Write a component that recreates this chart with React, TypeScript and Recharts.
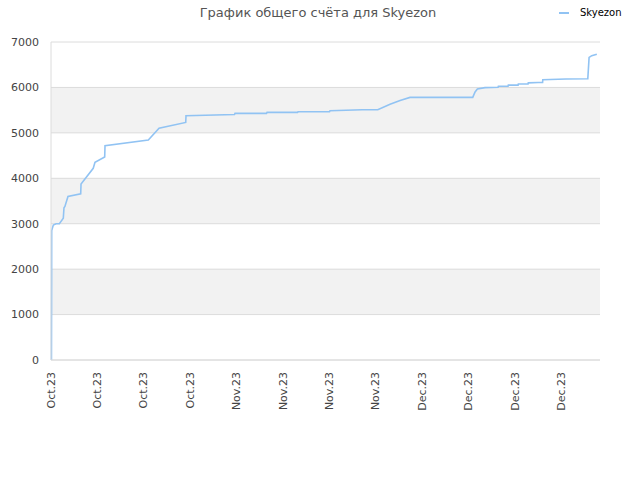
import { LineChart, Line, XAxis, YAxis, CartesianGrid } from 'recharts';

// x position measured in tick intervals from the left edge of the plot
const xPos = [
  0.01, 0.015, 0.05, 0.11, 0.18, 0.265, 0.28, 0.3, 0.366, 0.64, 0.647, 0.91, 0.948, 1.157, 1.164,
  2.097, 2.328, 2.903, 2.909, 3.955, 3.966, 4.644, 4.655, 5.313, 5.323, 6.002, 6.013, 6.703, 7.041,
  7.306, 7.522, 7.737, 9.088, 9.138, 9.188, 9.353, 9.634, 9.64, 9.849, 9.855, 10.065, 10.07,
  10.28, 10.285, 10.496, 10.593, 10.597, 11.099, 11.567, 11.595, 11.653, 11.761,
];
const scores = [
  0, 2850, 2970, 3000, 3000, 3120, 3350, 3380, 3600, 3660, 3875, 4220, 4350, 4470, 4717,
  4843, 5100, 5230, 5378, 5405, 5428, 5428, 5450, 5450, 5465, 5465, 5487, 5510, 5510,
  5630, 5710, 5780, 5780, 5900, 5965, 5995, 6005, 6025, 6025, 6050, 6050, 6075,
  6075, 6100, 6110, 6110, 6170, 6185, 6190, 6660, 6700, 6730,
];
const tickLabels = [
  'Oct.23', 'Oct.23', 'Oct.23', 'Oct.23', 'Nov.23', 'Nov.23',
  'Nov.23', 'Nov.23', 'Dec.23', 'Dec.23', 'Dec.23', 'Dec.23',
];
const yTicks = [0, 1000, 2000, 3000, 4000, 5000, 6000, 7000];

const data = xPos.map((x, i) => ({ x, score: scores[i] }));

const FONT = '"DejaVu Sans", sans-serif';
const LINE_COLOR = '#91c3f3';

function RotatedTick({ x, y, payload }: any) {
  return (
    <text
      x={x}
      y={y + 4}
      transform={`rotate(-90, ${x}, ${y + 4})`}
      textAnchor="end"
      dominantBaseline="central"
      fontSize={11}
      fill="#444"
      fontFamily={FONT}
    >
      {tickLabels[payload.value]}
    </text>
  );
}

export default function App() {
  return (
    <div style={{ position: 'absolute', left: 0, top: 0, width: 640, height: 480, background: '#fff' }}>
      <div
        style={{
          position: 'absolute', top: 5, left: 0, width: 636, textAlign: 'center',
          fontFamily: FONT, fontSize: 13, color: '#555',
        }}
      >
        График общего счёта для Skyezon
      </div>
      <div
        style={{
          position: 'absolute', top: 7, left: 559, display: 'flex', alignItems: 'center',
          fontFamily: FONT, fontSize: 10, color: '#000',
        }}
      >
        <span style={{ display: 'inline-block', width: 10, height: 2, background: LINE_COLOR, marginRight: 11 }} />
        Skyezon
      </div>
      <LineChart
        width={640}
        height={480}
        data={data}
        margin={{ top: 42, right: 40, left: 0, bottom: 0 }}
      >
        <CartesianGrid
          vertical={false}
          stroke="#dcdcdc"
          horizontalFill={['#ffffff', '#f2f2f2']}
          fillOpacity={1}
        />
        <XAxis
          dataKey="x"
          type="number"
          domain={[0, 11.83]}
          ticks={tickLabels.map((_, i) => i)}
          interval={0}
          height={120}
          tick={<RotatedTick />}
          tickLine={false}
          axisLine={{ stroke: '#dcdcdc' }}
        />
        <YAxis
          type="number"
          domain={[0, 7000]}
          ticks={yTicks}
          width={51}
          tickLine={false}
          axisLine={{ stroke: '#dcdcdc' }}
          tick={{ fontSize: 11, fill: '#444', fontFamily: FONT }}
          tickMargin={6}
        />
        <YAxis yAxisId="right" orientation="right" width={0} tick={false} tickLine={false} axisLine={{ stroke: '#dcdcdc' }} />
        <XAxis xAxisId="top" orientation="top" height={0} tick={false} tickLine={false} axisLine={{ stroke: '#dcdcdc' }} />
        <Line
          dataKey="score"
          type="linear"
          stroke={LINE_COLOR}
          strokeWidth={1.6}
          dot={false}
          isAnimationActive={false}
        />
      </LineChart>
    </div>
  );
}
